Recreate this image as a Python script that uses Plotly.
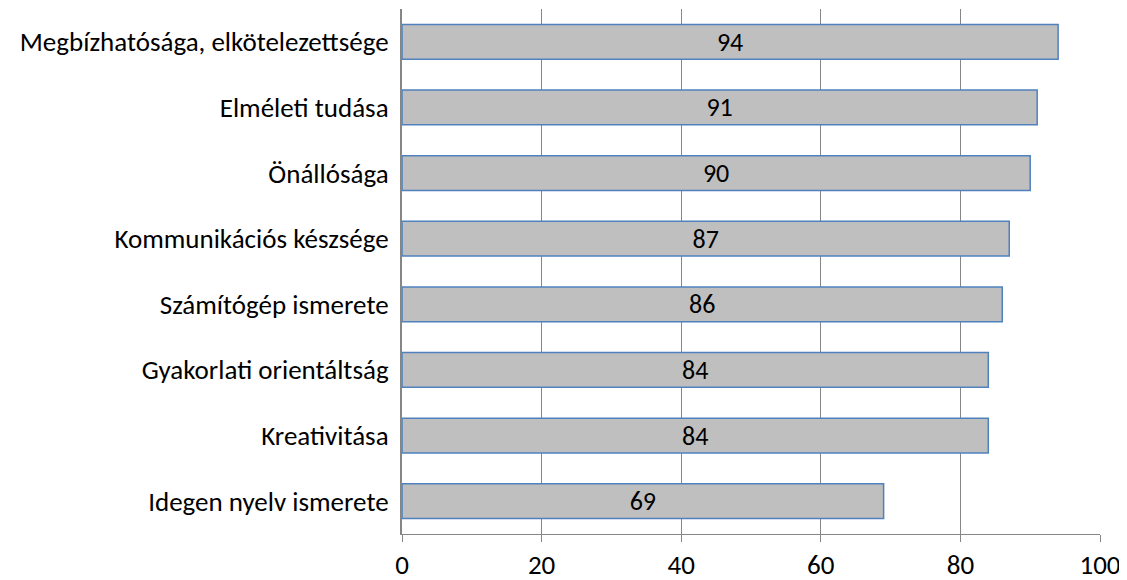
import plotly.graph_objects as go

categories = ["Idegen nyelv ismerete", "Kreativitása", "Gyakorlati orientáltság",
              "Számítógép ismerete", "Kommunikációs készsége", "Önállósága",
              "Elméleti tudása", "Megbízhatósága, elkötelezettsége"]
values = [69, 84, 84, 86, 87, 90, 91, 94]
x_ticks = [0, 20, 40, 60, 80, 100]

font_family = "Carlito, Calibri, Lato, sans-serif"

fig = go.Figure(go.Bar(
    x=values, y=categories, orientation="h",
    marker=dict(color="#BFBFBF", line=dict(color="#4F81BD", width=1.5)),
    text=[str(v) for v in values], textposition="inside", insidetextanchor="middle",
    textfont=dict(size=26, color="black", family=font_family),
    textangle=0, constraintext="none",
))

fig.update_layout(
    width=1127, height=580,
    margin=dict(l=394, r=35, t=1, b=54),
    plot_bgcolor="white", paper_bgcolor="white",
    bargap=0.47,
    showlegend=False,
    font=dict(family=font_family, size=27, color="black"),
    uniformtext=dict(mode=False),
)
fig.update_xaxes(range=[0, 100], tickvals=x_ticks, showgrid=True, gridcolor="#868686",
                 gridwidth=1, showline=True, linecolor="#868686", linewidth=1,
                 ticks="outside", ticklen=7, tickcolor="#868686", zeroline=False,
                 tickfont=dict(size=27), automargin=False)
fig.update_yaxes(showline=True, linecolor="#868686", linewidth=2, showgrid=False,
                 ticks="", ticklabelstandoff=6, tickfont=dict(size=27), automargin=False)

fig.write_html("out.html")
